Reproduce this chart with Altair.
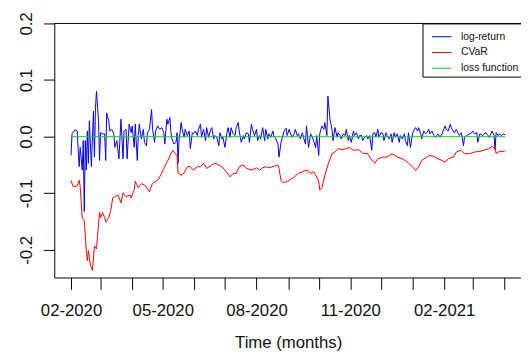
import altair as alt
import pandas as pd

# ---- data (days since 2020-02-01, values) ----
series_names = ["log-return", "CVaR", "loss function"]
series_colors = ["#0000FF", "#FF0000", "#1FC41F"]

blue_days = [
    0, 1, 4, 6, 7, 8, 9, 11, 12, 13,
    14, 15, 16, 17, 18, 20, 22, 23, 24, 25,
    27, 28, 29, 31, 33, 34, 35, 37, 38, 40,
    42, 43, 45, 47, 49, 51, 52, 54, 55, 57,
    59, 60, 62, 63, 65, 66, 67, 69, 71, 72,
    74, 75, 77, 79, 80, 82, 83, 85, 87, 89,
    91, 92, 94, 95, 97, 98, 99, 101, 103, 104,
    105, 106, 107, 108, 109, 111, 112, 114, 116, 117,
    119, 120, 122, 124, 125, 127, 128, 130, 132, 133,
    135, 137, 138, 140, 141, 143, 145, 146, 148, 149,
    151, 153, 154, 156, 157, 159, 161, 162, 164, 165,
    167, 169, 170, 172, 174, 175, 177, 178, 180, 182,
    183, 185, 186, 188, 190, 191, 193, 194, 196, 198,
    199, 201, 203, 204, 206, 207, 209, 211, 212, 214,
    215, 217, 219, 220, 222, 223, 225, 227, 228, 230,
    231, 233, 235, 236, 238, 240, 241, 243, 244, 246,
    248, 249, 251, 252, 254, 256, 257, 259, 261, 262,
    264, 265, 267, 269, 270, 272, 273, 275, 277, 278,
    280, 282, 283, 285, 286, 288, 290, 291, 293, 295,
    296, 298, 299, 301, 302, 304, 306, 307, 309, 310,
    312, 314, 315, 317, 318, 320, 322, 323, 325, 327,
    328, 330, 331, 333, 335, 336, 338, 340, 341, 343,
    344, 346, 348, 349, 351, 352, 354, 356, 357, 359,
    360, 362, 364, 365, 367, 368, 370, 372, 373, 375,
    376, 378, 380, 381, 383, 385, 386, 388, 391, 393,
    394, 396, 398, 399, 401, 404, 405, 407, 409, 410,
    412, 413, 415, 416, 417, 419, 420, 422, 424, 426,
]
blue_values = [
    -0.033, 0.005, 0.012, 0.010, -0.021, -0.053, -0.019, -0.059, -0.007, -0.132,
    -0.007, -0.059, 0.010, -0.047, 0.028, -0.053, 0.045, -0.036, 0.051, 0.080,
    0.028, -0.042, 0.007, 0.005, 0.005, -0.042, 0.042, 0.028, 0.010, 0.013,
    0.005, -0.019, -0.007, -0.039, 0.031, -0.039, 0.010, 0.013, -0.039, 0.022,
    0.007, 0.019, -0.019, 0.022, -0.042, 0.002, 0.022, -0.004, 0.013, -0.010,
    -0.016, 0.007, 0.013, 0.048, 0.013, -0.010, 0.010, 0.019, 0.013, 0.016,
    0.007, -0.013, 0.031, 0.022, 0.034, 0.007, -0.004, -0.013, -0.010, 0.007,
    -0.047, -0.004, 0.007, 0.025, 0.013, -0.001, 0.013, 0.002, 0.010, -0.021,
    0.007, 0.005, 0.010, 0.002, 0.013, 0.022, -0.001, 0.013, -0.007, 0.016,
    -0.001, 0.013, 0.016, -0.004, 0.002, -0.001, -0.016, 0.007, -0.004, -0.001,
    -0.019, 0.007, 0.016, -0.001, 0.016, 0.005, 0.002, 0.016, 0.025, 0.010,
    -0.010, 0.002, -0.004, 0.007, 0.005, -0.010, 0.022, 0.013, 0.002, 0.013,
    -0.007, 0.002, -0.004, 0.016, -0.007, 0.013, -0.004, 0.005, -0.001, 0.010,
    0.002, -0.004, -0.013, -0.036, -0.010, -0.004, 0.010, 0.015, 0.002, 0.013,
    0.007, -0.001, 0.005, 0.013, 0.002, 0.005, -0.004, 0.007, -0.001, -0.013,
    0.019, -0.019, 0.005, 0.002, -0.007, -0.019, 0.002, -0.033, 0.005, 0.019,
    0.013, 0.025, 0.002, 0.071, 0.031, 0.013, -0.007, 0.016, -0.001, 0.007,
    0.002, -0.004, 0.005, 0.002, 0.013, -0.007, 0.002, -0.010, 0.010, 0.002,
    0.007, -0.004, 0.002, 0.002, -0.007, -0.001, 0.002, -0.004, 0.002, -0.024,
    0.005, 0.007, -0.001, 0.013, -0.001, 0.007, 0.005, -0.007, 0.007, 0.002,
    -0.004, 0.005, -0.010, 0.007, -0.001, 0.005, -0.010, 0.002, -0.004, 0.005,
    -0.007, -0.016, 0.007, -0.019, 0.005, 0.010, 0.016, 0.010, 0.016, 0.005,
    -0.004, 0.010, 0.005, 0.007, 0.013, 0.005, 0.010, 0.002, -0.001, 0.002,
    0.005, -0.001, 0.005, 0.010, 0.019, 0.013, 0.010, 0.022, 0.016, 0.010,
    0.007, 0.013, 0.005, 0.002, 0.007, -0.016, -0.001, 0.002, 0.005, 0.007,
    0.010, 0.005, 0.007, -0.010, 0.005, 0.002, 0.005, 0.007, 0.002, -0.001,
    0.005, 0.010, 0.002, -0.024, 0.007, 0.002, 0.005, 0.002, 0.005, 0.003,
]

red_days = [
    0, 2, 6, 8, 9, 11, 13, 15, 16, 17, 19, 21, 23, 25, 28, 29, 31, 33, 34, 37,
    39, 41, 43, 46, 49, 51, 54, 58, 59, 62, 63, 66, 69, 72, 77, 80, 85, 88, 91, 95,
    98, 100, 102, 104, 105, 108, 111, 114, 117, 120, 124, 127, 130, 133, 138, 141,
    145, 148, 151, 156, 159, 162, 165, 169, 172, 177, 182, 185, 188, 191, 194, 198,
    203, 204, 206, 208, 211, 214, 219, 223, 228, 232, 235, 238, 241, 243, 244, 246,
    249, 252, 256, 259, 262, 267, 270, 273, 277, 280, 283, 286, 291, 294, 298, 301,
    306, 310, 315, 320, 325, 330, 335, 338, 341, 344, 349, 352, 356, 360, 364, 367,
    370, 375, 378, 383, 386, 391, 396, 401, 405, 410, 413, 415, 416, 417, 420, 425, 426,
]
red_values = [
    -0.077, -0.088, -0.087, -0.077, -0.088, -0.144, -0.148, -0.201, -0.219, -0.201,
    -0.227, -0.236, -0.193, -0.198, -0.134, -0.143, -0.134, -0.143, -0.151, -0.143,
    -0.130, -0.108, -0.106, -0.103, -0.117, -0.099, -0.106, -0.103, -0.108, -0.094,
    -0.079, -0.090, -0.083, -0.085, -0.097, -0.082, -0.077, -0.068, -0.056, -0.042,
    -0.030, -0.024, -0.030, -0.033, -0.064, -0.068, -0.064, -0.053, -0.053, -0.059,
    -0.053, -0.053, -0.047, -0.056, -0.050, -0.047, -0.050, -0.053, -0.059, -0.071,
    -0.065, -0.065, -0.053, -0.050, -0.056, -0.059, -0.055, -0.059, -0.055, -0.053,
    -0.055, -0.053, -0.050, -0.056, -0.077, -0.081, -0.080, -0.077, -0.071, -0.065,
    -0.061, -0.059, -0.065, -0.062, -0.071, -0.079, -0.094, -0.091, -0.068, -0.050,
    -0.030, -0.027, -0.021, -0.023, -0.021, -0.019, -0.024, -0.023, -0.024, -0.029,
    -0.030, -0.039, -0.047, -0.039, -0.036, -0.036, -0.030, -0.036, -0.039, -0.045,
    -0.053, -0.060, -0.053, -0.042, -0.036, -0.033, -0.035, -0.039, -0.042, -0.045,
    -0.039, -0.036, -0.027, -0.024, -0.030, -0.030, -0.027, -0.026, -0.024, -0.021,
    -0.017, -0.021, -0.017, -0.030, -0.026, -0.026, -0.024,
]

green_days = [0, 426]
green_values = [0.0, 0.0]

y_ticks = [-0.2, -0.1, 0.0, 0.1, 0.2]
x_tick_months = [(2020, m) for m in range(2, 13)] + [(2021, m) for m in range(1, 5)]

# ---- build table ----
base = pd.Timestamp("2020-02-01")
rows = []
for name, days, vals in [
    ("log-return", blue_days, blue_values),
    ("CVaR", red_days, red_values),
    ("loss function", green_days, green_values),
]:
    for d, v in zip(days, vals):
        rows.append({"date": (base + pd.Timedelta(days=d)).strftime("%Y-%m-%d"),
                     "value": v, "series": name})
df = pd.DataFrame(rows)

W, H = 474, 258
FONT = "Liberation Sans"

x_scale = alt.Scale(
    type="utc",
    domain=[alt.DateTime(year=2020, month=1, date=15, hours=14, utc=True),
            alt.DateTime(year=2021, month=4, date=17, hours=10, utc=True)],
)
y_scale = alt.Scale(domain=[-0.2487, 0.2], nice=False, zero=False)

x_axis = alt.Axis(
    values=[alt.DateTime(year=y, month=m, date=1, utc=True) for y, m in x_tick_months],
    labelExpr="utcmonth(datum.value) % 3 == 1 ? utcFormat(datum.value, '%m-%Y') : ''",
    tickSize=12, labelPadding=27, labelBaseline="alphabetic", labelAngle=0,
    labelAlign="center", labelFlush=False, labelOverlap=False,
    titleX=237.5, titleY=71, titleBaseline="alphabetic", titleAlign="center",
    titleFontSize=17, titleFontWeight="normal", titleFont=FONT, titleColor="#111111",
)
y_axis = alt.Axis(
    values=y_ticks,
    labelExpr="datum.value < 0 ? '-' + format(-datum.value, '.1f') : format(datum.value, '.1f')",
    tickSize=11, labelPadding=12, labelAngle=-90, labelAlign="center",
    labelBaseline="alphabetic", labelOverlap=False,
)

lines = alt.Chart(df).mark_line(strokeWidth=1).encode(
    x=alt.X("date:T", scale=x_scale, axis=x_axis, title="Time (months)"),
    y=alt.Y("value:Q", scale=y_scale, axis=y_axis, title=None),
    color=alt.Color(
        "series:N",
        scale=alt.Scale(domain=series_names, range=series_colors),
        sort=series_names,
        legend=alt.Legend(
            title=None, orient="none", legendX=374, legendY=0,
            symbolType="stroke", symbolSize=400, symbolStrokeWidth=1,
            symbolOffset=6, labelOffset=9, labelFontSize=10.5, labelFont=FONT,
            labelColor="#111111", padding=3, rowPadding=-7,
            strokeColor="black", fillColor="white",
        ),
    ),
)

top_line = alt.Chart(pd.DataFrame({"v": [0.2]})).mark_rule(
    color="black", strokeWidth=1
).encode(y=alt.Y("v:Q", scale=y_scale), x=alt.value(0), x2=alt.value(W))

chart = alt.layer(lines, top_line).properties(
    width=W, height=H,
    autosize=alt.AutoSizeParams(type="none"),
    padding={"left": 47, "top": 13, "right": 0, "bottom": 75},
).configure_view(strokeWidth=0).configure_axis(
    grid=False, domainColor="black", tickColor="black", labelColor="#111111",
    labelFont=FONT, labelFontSize=17, domainWidth=1, tickWidth=1,
)

chart.save("out.html", embed_options={"renderer": "svg", "actions": False})
